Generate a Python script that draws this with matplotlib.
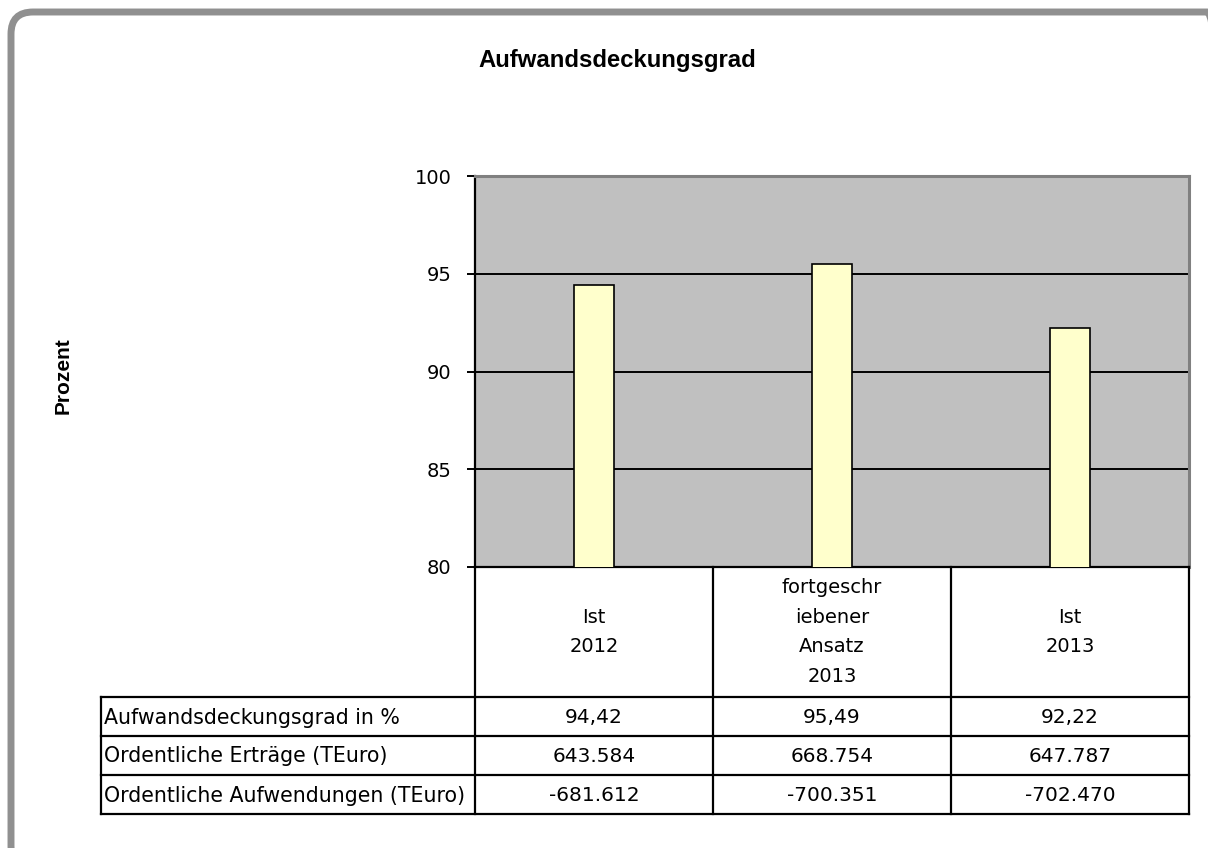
import matplotlib
matplotlib.use("Agg")
import matplotlib.pyplot as plt
from matplotlib.patches import FancyBboxPatch
from matplotlib.lines import Line2D
import matplotlib.transforms as mtransforms

title = "Aufwandsdeckungsgrad"
ylabel = "Prozent"
categories = ["Ist\n2012", "fortgeschr\niebener\nAnsatz\n2013", "Ist\n2013"]
deckungsgrad = [94.42, 95.49, 92.22]
row_labels = ["Aufwandsdeckungsgrad in %",
              "Ordentliche Erträge (TEuro)",
              "Ordentliche Aufwendungen (TEuro)"]
row_values = [["94,42", "95,49", "92,22"],
              ["643.584", "668.754", "647.787"],
              ["-681.612", "-700.351", "-702.470"]]
yticks = [80, 85, 90, 95, 100]

W, H = 1208, 848
DPI = 100
fig = plt.figure(figsize=(W / DPI, H / DPI), dpi=DPI)
fig.patch.set_facecolor("white")

def fx(px):
    return px / W

def fy(py):
    return 1 - py / H

# rounded outer frame (pixel coordinates)
frame = FancyBboxPatch((11, -20), 1229 - 11, (H - 12) + 20,
                       boxstyle="round,pad=0,rounding_size=22",
                       transform=mtransforms.IdentityTransform(), facecolor="none",
                       edgecolor="#909090", linewidth=5, clip_on=False)
fig.add_artist(frame)

# plot area
left, right, top, bottom = 475, 1189, 176, 567
ax = fig.add_axes([fx(left), fy(bottom), fx(right) - fx(left), fy(top) - fy(bottom)])
ax.set_facecolor("#C0C0C0")
x = list(range(len(categories)))
ax.bar(x, deckungsgrad, width=0.172, bottom=0, color="#FFFFCC",
       edgecolor="black", linewidth=1.2, zorder=3)
ax.set_xlim(-0.5, len(categories) - 0.5)
ax.set_ylim(80, 100)
ax.set_yticks(yticks)
ax.set_yticklabels([str(t) for t in yticks], fontsize=14, family="DejaVu Sans")
ax.tick_params(axis="y", direction="out", length=6, width=1.4, pad=11)
ax.set_xticks([])
for v in yticks[1:-1]:
    ax.axhline(v, color="black", linewidth=1.4, zorder=1)
for s in ["top", "right"]:
    ax.spines[s].set_color("#808080")
    ax.spines[s].set_linewidth(2.2)
ax.spines["left"].set_linewidth(1.6)
ax.spines["bottom"].set_linewidth(1.6)

fig.text(fx(617), fy(60), title, ha="center", va="center", fontsize=17.2,
         fontweight="bold", family="Liberation Sans")
fig.text(fx(63), fy(376), ylabel, ha="center", va="center", rotation=90,
         fontsize=15, fontweight="bold", family="Liberation Sans")

# data table below the axes
trans = mtransforms.blended_transform_factory(ax.transData, fig.transFigure)
lw = 1.6
cat_top, cat_bot = 567, 697
row_edges = [697, 736, 775, 814]
table_left = 101
edges_x = [i - 0.5 for i in range(len(categories) + 1)]

for ex in edges_x:
    fig.add_artist(Line2D([ex, ex], [fy(cat_top), fy(row_edges[-1])], transform=trans,
                          color="black", linewidth=lw))
for ry in row_edges:
    fig.add_artist(Line2D([fx(table_left), fx(right)], [fy(ry), fy(ry)],
                          transform=fig.transFigure, color="black", linewidth=lw))
fig.add_artist(Line2D([fx(table_left), fx(table_left)], [fy(row_edges[0]), fy(row_edges[-1])],
                      transform=fig.transFigure, color="black", linewidth=lw))

for i, c in enumerate(categories):
    fig.text(i, fy((cat_top + cat_bot) / 2), c, transform=trans, ha="center",
             va="center", fontsize=14, family="DejaVu Sans", linespacing=1.7)

for r, lab in enumerate(row_labels):
    yc = fy((row_edges[r] + row_edges[r + 1]) / 2 + 1)
    fig.text(fx(table_left + 3), yc, lab, ha="left", va="center", fontsize=14.8,
             family="DejaVu Sans")
    for i, val in enumerate(row_values[r]):
        fig.text(i, yc, val, transform=trans, ha="center", va="center",
                 fontsize=14.5, family="DejaVu Sans")

fig.savefig("out.png", dpi=DPI)
